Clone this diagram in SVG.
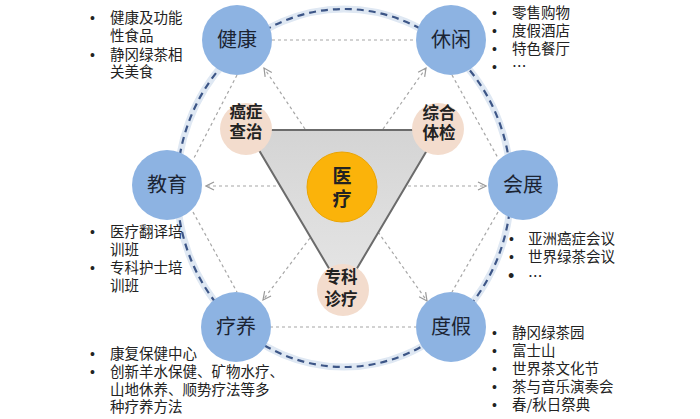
<svg xmlns="http://www.w3.org/2000/svg" width="700" height="419" viewBox="0 0 700 419">
<defs>
<marker id="arr" viewBox="0 0 10 10" refX="9" refY="5" markerWidth="10" markerHeight="10" markerUnits="userSpaceOnUse" orient="auto">
<path d="M1,1 L9,5 L1,9" fill="none" stroke="#999" stroke-width="1.2"/>
</marker>
<linearGradient id="tri" x1="0" y1="0" x2="0" y2="1">
<stop offset="0" stop-color="#d4d4d4"/>
<stop offset="1" stop-color="#e6e6e6"/>
</linearGradient>
</defs>
<style>
.hex{fill:none;stroke:#a6a6a6;stroke-width:1.2;stroke-dasharray:3 3}
.arw{fill:none;stroke:#a6a6a6;stroke-width:1.2;stroke-dasharray:3 3;marker-end:url(#arr)}
.node{fill:#8db3e2}
.nl{font-family:"Noto Sans CJK SC",sans-serif;font-size:20px;fill:#1b2433;text-anchor:middle}
.sub{fill:#f3dccd}
.sl{font-family:"Noto Sans CJK SC",sans-serif;font-size:16.5px;font-weight:bold;fill:#222;text-anchor:middle}
.li{font-family:"Noto Sans CJK SC",sans-serif;font-size:14.5px;fill:#222}
.bu{font-family:"Liberation Sans",sans-serif;font-size:14px}
</style>
<rect width="700" height="419" fill="#fff"/>
<g id="ring">
<ellipse cx="344" cy="188" rx="167" ry="179" fill="none" stroke="#dfe8f3" stroke-width="7"/>
<ellipse cx="344" cy="188" rx="167" ry="179" fill="none" stroke="#3d5687" stroke-width="2.2" stroke-dasharray="7 5"/>
</g>
<g id="connectors">
<line class="hex" x1="272" y1="40" x2="416" y2="40"/>
<line class="hex" x1="270" y1="327" x2="416" y2="327"/>
<line class="hex" x1="237" y1="75" x2="194" y2="158"/>
<line class="hex" x1="193" y1="212" x2="237" y2="292"/>
<line class="hex" x1="452" y1="75" x2="498" y2="158"/>
<line class="hex" x1="498" y1="212" x2="452" y2="292"/>
<line class="arw" x1="282" y1="186" x2="206" y2="186"/>
<line class="arw" x1="402" y1="186" x2="486" y2="186"/>
<line class="arw" x1="305" y1="129" x2="264" y2="68"/>
<line class="arw" x1="383" y1="129" x2="426" y2="68"/>
<line class="arw" x1="310" y1="238" x2="263" y2="300"/>
<line class="arw" x1="378" y1="232" x2="427" y2="301"/>
</g>
<g id="triangle">
<polygon points="247,130 439,130 343,292" fill="url(#tri)" stroke="#6b6b6b" stroke-width="2"/>
</g>
<g id="n-yiliao">
<circle cx="342" cy="187" r="35" fill="#fbb30a" stroke="#eba400" stroke-width="1"/>
<text class="sl" style="font-size:19px"><tspan x="342" y="183">医</tspan><tspan x="342" y="206">疗</tspan></text>
</g>
<g id="n-aizheng">
<circle class="sub" cx="246" cy="129" r="26"/>
<text class="sl"><tspan x="246" y="118">癌症</tspan><tspan x="246" y="138">查治</tspan></text>
</g>
<g id="n-zonghe">
<circle class="sub" cx="438" cy="129" r="26"/>
<text class="sl"><tspan x="439" y="119">综合</tspan><tspan x="439" y="139">体检</tspan></text>
</g>
<g id="n-zhuanke">
<circle class="sub" cx="343" cy="290" r="26"/>
<text class="sl"><tspan x="341" y="283">专科</tspan><tspan x="341" y="305">诊疗</tspan></text>
</g>
<g id="n-jiankang">
<circle class="node" cx="237" cy="40" r="35"/>
<text class="nl" x="237" y="47">健康</text>
</g>
<g id="n-xiuxian">
<circle class="node" cx="451" cy="40" r="35"/>
<text class="nl" x="451" y="47">休闲</text>
</g>
<g id="n-jiaoyu">
<circle class="node" cx="167" cy="185" r="35"/>
<text class="nl" x="167" y="192">教育</text>
</g>
<g id="n-huizhan">
<circle class="node" cx="523" cy="185" r="35"/>
<text class="nl" x="523" y="192">会展</text>
</g>
<g id="n-liaoyang">
<circle class="node" cx="236" cy="327" r="35"/>
<text class="nl" x="236" y="334">疗养</text>
</g>
<g id="n-dujia">
<circle class="node" cx="451" cy="327" r="35"/>
<text class="nl" x="451" y="334">度假</text>
</g>
<g id="list-jiankang">
<text class="li"><tspan class="bu" x="90" y="23">•</tspan><tspan x="110" y="23">健康及功能</tspan><tspan x="110" y="41">性食品</tspan><tspan class="bu" x="90" y="60">•</tspan><tspan x="110" y="60">静冈绿茶相</tspan><tspan x="110" y="77">关美食</tspan></text>
</g>
<g id="list-xiuxian">
<text class="li"><tspan class="bu" x="492" y="18">•</tspan><tspan x="512" y="18">零售购物</tspan><tspan class="bu" x="492" y="36">•</tspan><tspan x="512" y="36">度假酒店</tspan><tspan class="bu" x="492" y="54">•</tspan><tspan x="512" y="54">特色餐厅</tspan><tspan class="bu" x="492" y="72">•</tspan><tspan x="512" y="72">…</tspan></text>
</g>
<g id="list-jiaoyu">
<text class="li"><tspan class="bu" x="90" y="237">•</tspan><tspan x="110" y="237">医疗翻译培</tspan><tspan x="110" y="255">训班</tspan><tspan class="bu" x="90" y="273">•</tspan><tspan x="110" y="273">专科护士培</tspan><tspan x="110" y="291">训班</tspan></text>
</g>
<g id="list-liaoyang">
<text class="li"><tspan class="bu" x="90" y="359">•</tspan><tspan x="110" y="359">康复保健中心</tspan><tspan class="bu" x="90" y="377">•</tspan><tspan x="110" y="377">创新羊水保健、矿物水疗、</tspan><tspan x="110" y="395">山地休养、顺势疗法等多</tspan><tspan x="110" y="412">种疗养方法</tspan></text>
</g>
<g id="list-huizhan">
<text class="li"><tspan class="bu" x="509" y="244">•</tspan><tspan x="528" y="244">亚洲癌症会议</tspan><tspan class="bu" x="509" y="262">•</tspan><tspan x="528" y="262">世界绿茶会议</tspan><tspan class="bu" x="508" y="282" style="font-size:18px">•</tspan><tspan x="528" y="282">…</tspan></text>
</g>
<g id="list-dujia">
<text class="li"><tspan class="bu" x="492" y="338">•</tspan><tspan x="512" y="338">静冈绿茶园</tspan><tspan class="bu" x="492" y="356">•</tspan><tspan x="512" y="356">富士山</tspan><tspan class="bu" x="492" y="374">•</tspan><tspan x="512" y="374">世界茶文化节</tspan><tspan class="bu" x="492" y="392">•</tspan><tspan x="512" y="392">茶与音乐演奏会</tspan><tspan class="bu" x="492" y="410">•</tspan><tspan x="512" y="410">春/秋日祭典</tspan></text>
</g>
</svg>
